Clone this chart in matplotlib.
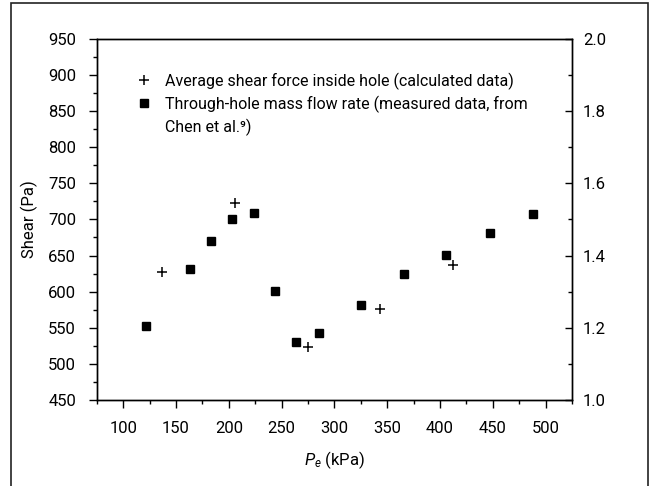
import matplotlib
matplotlib.use("Agg")
import matplotlib.pyplot as plt
from matplotlib.ticker import MultipleLocator, FormatStrFormatter
from matplotlib.lines import Line2D
from matplotlib.patches import Rectangle

plt.rcParams['font.family'] = ['Roboto', 'DejaVu Sans']
plt.rcParams['mathtext.fontset'] = 'custom'
plt.rcParams['mathtext.rm'] = 'Roboto'
plt.rcParams['mathtext.it'] = 'Roboto:italic'

# average shear force inside hole (calculated)
pe_shear = [137, 206, 275, 343, 412]
shear_pa = [627, 723, 524, 576, 637]

# through-hole mass flow rate (measured, Chen et al.)
pe_flow = [122, 163, 183, 203, 224, 244, 264, 285, 325, 366, 406, 447, 488]
mass_flow = [1.205, 1.362, 1.441, 1.501, 1.519, 1.303, 1.161, 1.186,
             1.264, 1.350, 1.401, 1.463, 1.515]

legend_labels = ["Average shear force inside hole (calculated data)",
                 "Through-hole mass flow rate (measured data, from",
                 "Chen et al.\u2079)"]

fig = plt.figure(figsize=(6.5, 4.86), dpi=100)
ax = fig.add_axes([0.149, 0.177, 0.731, 0.743])
ax2 = ax.twinx()

ax.plot(pe_shear, shear_pa, linestyle="none", marker="+", ms=7, mew=1.1, color="black")
ax2.plot(pe_flow, mass_flow, linestyle="none", marker="s", ms=5.5, color="black")

ax.set_xlim(75, 525)
ax.set_ylim(450, 950)
ax2.set_ylim(1.0, 2.0)

ax.xaxis.set_major_locator(MultipleLocator(50))
ax.xaxis.set_minor_locator(MultipleLocator(25))
ax.yaxis.set_major_locator(MultipleLocator(50))
ax.yaxis.set_minor_locator(MultipleLocator(25))
ax2.yaxis.set_major_locator(MultipleLocator(0.2))
ax2.yaxis.set_minor_locator(MultipleLocator(0.1))
ax2.yaxis.set_major_formatter(FormatStrFormatter('%.1f'))

ax.tick_params(axis='both', which='major', direction='out', length=6, width=1,
               labelsize=12, pad=9, top=False)
ax.tick_params(axis='both', which='minor', direction='out', length=3, width=1, top=False)
ax.tick_params(axis='y', which='both', right=False)
ax2.tick_params(axis='y', which='major', direction='in', length=5, width=1,
                labelsize=12, pad=8)
ax2.tick_params(axis='y', which='minor', direction='in', length=3, width=1)

for a in (ax, ax2):
    for s in a.spines.values():
        s.set_linewidth(1)

ax.set_ylabel("Shear (Pa)", fontsize=12, labelpad=7)
ax.set_xlabel("$P_e$ (kPa)", fontsize=12, labelpad=10)

# legend: second entry wraps, so its marker sits on the first line only
handles = [
    Line2D([], [], linestyle="none", marker="+", ms=7, mew=1.1, color="black"),
    Line2D([], [], linestyle="none", marker="s", ms=5.5, color="black"),
    Line2D([], [], linestyle="none", marker=None),
]
ax.legend(handles, legend_labels, loc="upper left",
          bbox_to_anchor=(0.072, 0.925), frameon=False, fontsize=11.5,
          handlelength=0.8, handletextpad=0.9, labelspacing=0.36,
          borderaxespad=0)

fig.patches.append(Rectangle((11 / 650, -0.02), 637 / 650, 1 - 3 / 486 + 0.02,
                             transform=fig.transFigure, fill=False,
                             edgecolor="#222222", linewidth=1.2))

fig.savefig("out.png", dpi=100)
